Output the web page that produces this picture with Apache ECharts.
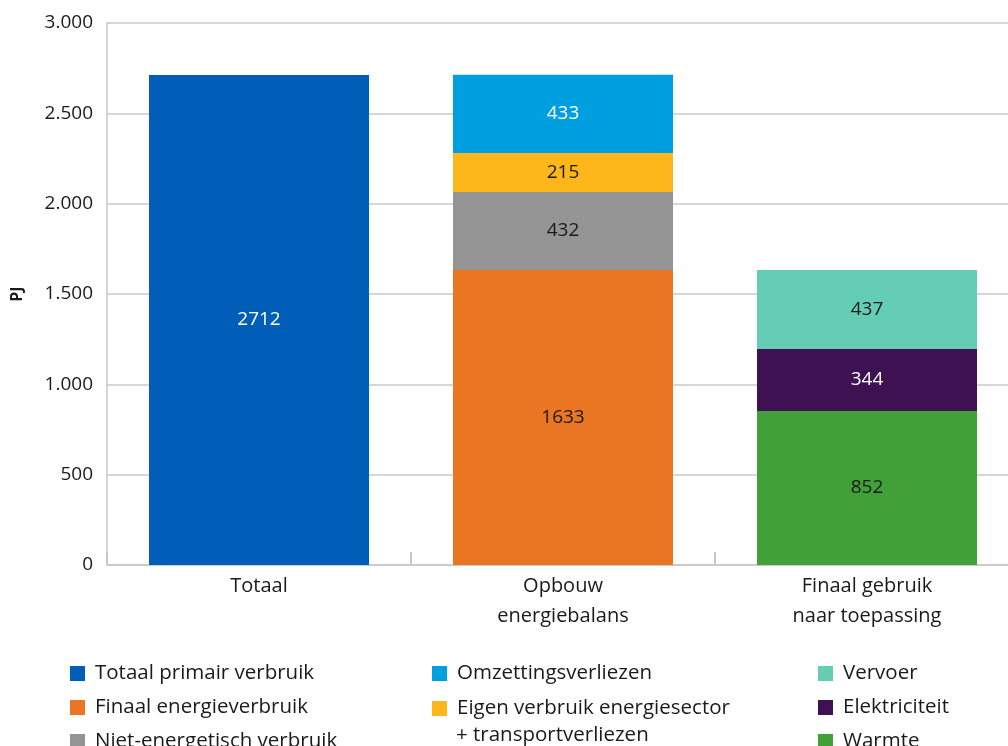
<!DOCTYPE html>
<html>
<head>
<meta charset="utf-8">
<script src="https://cdn.jsdelivr.net/npm/echarts@6/dist/echarts.min.js"></script>
<style>
  html, body { margin: 0; padding: 0; background: #fff; }
  #chart { width: 1008px; height: 746px; }
</style>
</head>
<body>
<div id="chart"></div>
<script>
// categories on the x axis
const categories = ['Totaal', 'Opbouw\nenergiebalans', 'Finaal gebruik\nnaar toepassing'];

// stacked segments, bottom to top (null = not in that column)
const totaalPrimair   = [2712, null, null];
const finaalEnergie   = [null, 1633, null];
const nietEnergetisch = [null, 432, null];
const eigenVerbruik   = [null, 215, null];
const omzetting       = [null, 433, null];
const warmte          = [null, null, 852];
const elektriciteit   = [null, null, 344];
const vervoer         = [null, null, 437];

const FONT = 'Open Sans';

function seg(name, data, color, labelColor) {
    return {
        name: name,
        type: 'bar',
        stack: 'a',
        barWidth: 220,
        data: data,
        itemStyle: { color: color },
        label: {
            show: true,
            position: 'inside',
            color: labelColor,
            fontFamily: FONT,
            fontSize: 19
        },
        emphasis: { disabled: true }
    };
}

function legendCol(left, names, gap) {
    return {
        orient: 'vertical',
        left: left,
        top: 663,
        height: 150,
        padding: 0,
        itemWidth: 15,
        itemHeight: 15,
        itemGap: gap,
        icon: 'rect',
        selectedMode: false,
        data: names,
        textStyle: { fontFamily: FONT, fontSize: 20.5, color: '#1a1a1a', padding: [0, 0, 0, 5] }
    };
}

const chart = echarts.init(document.getElementById('chart'));
chart.setOption({
    animation: false,
    grid: { left: 107, right: -11, top: 23, bottom: 181, outerBoundsMode: 'none' },
    xAxis: {
        type: 'category',
        data: categories,
        axisLine: { lineStyle: { color: '#c8c8c8', width: 1.5 } },
        axisTick: { show: true, inside: true, length: 13, lineStyle: { color: '#c8c8c8', width: 2 } },
        axisLabel: { fontFamily: FONT, fontSize: 20, color: '#1a1a1a', lineHeight: 30, margin: 6 }
    },
    yAxis: {
        type: 'value',
        min: 0,
        max: 3000,
        interval: 500,
        name: 'PJ',
        nameLocation: 'middle',
        nameRotate: 90,
        nameGap: 82,
        nameTextStyle: { fontFamily: FONT, fontSize: 16, fontWeight: 'bold', color: '#1a1a1a' },
        axisLine: { show: true, lineStyle: { color: '#c8c8c8', width: 1.5 } },
        axisTick: { show: false },
        splitLine: { lineStyle: { color: '#c8c8c8', width: 1.5 } },
        axisLabel: {
            fontFamily: FONT, fontSize: 19, color: '#1a1a1a', margin: 14,
            formatter: v => v.toString().replace(/\B(?=(\d{3})+(?!\d))/g, '.')
        }
    },
    legend: [
        legendCol(70, ['Totaal primair verbruik', 'Finaal energieverbruik', 'Niet-energetisch verbruik'], 13),
        legendCol(432, ['Omzettingsverliezen', 'Eigen verbruik energiesector'], 14),
        legendCol(818, ['Vervoer', 'Elektriciteit', 'Warmte'], 13)
    ],
    graphic: [{
        type: 'text',
        left: 456,
        top: 725,
        style: { text: '+ transportverliezen', font: '20.5px "' + FONT + '"', fill: '#1a1a1a' }
    }],
    series: [
        seg('Totaal primair verbruik', totaalPrimair, '#005EB8', '#ffffff'),
        seg('Finaal energieverbruik', finaalEnergie, '#EA7623', '#1a1a1a'),
        seg('Niet-energetisch verbruik', nietEnergetisch, '#949494', '#1a1a1a'),
        seg('Eigen verbruik energiesector', eigenVerbruik, '#FDB71A', '#1a1a1a'),
        seg('Omzettingsverliezen', omzetting, '#009FDF', '#ffffff'),
        seg('Warmte', warmte, '#42A039', '#1a1a1a'),
        seg('Elektriciteit', elektriciteit, '#3D1152', '#ffffff'),
        seg('Vervoer', vervoer, '#65CDB6', '#1a1a1a')
    ]
});
</script>
</body>
</html>
